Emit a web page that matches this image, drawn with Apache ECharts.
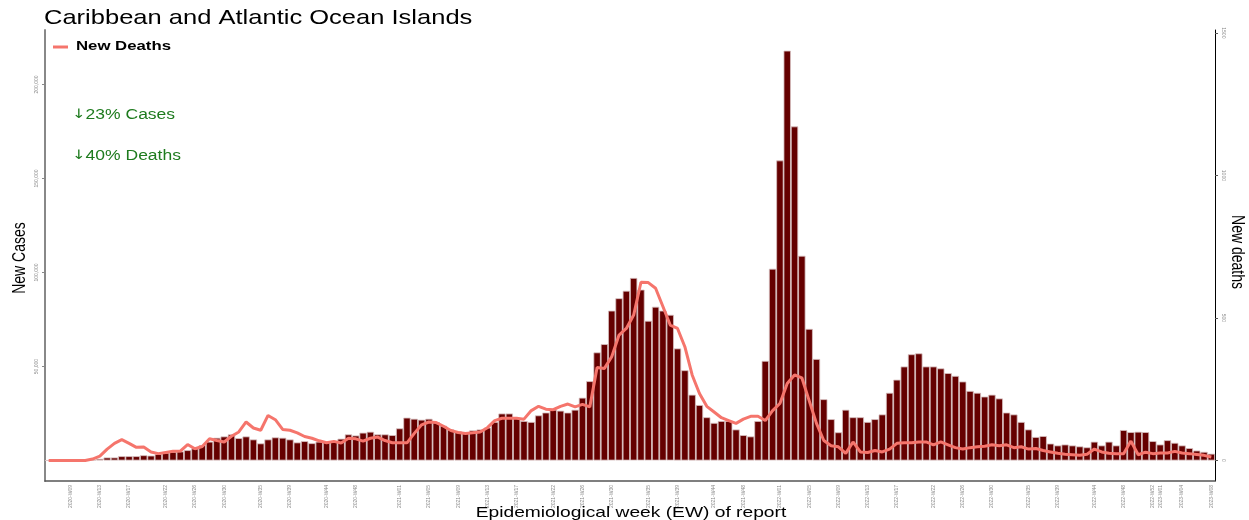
<!DOCTYPE html>
<html>
<head>
<meta charset="utf-8">
<script src="https://cdn.jsdelivr.net/npm/echarts@6/dist/echarts.min.js"></script>
<style>html,body{margin:0;padding:0;background:#fff}#c{width:1249px;height:520px}</style>
</head>
<body>
<div id="c"></div>
<script>
// Week categories 2020-W06 .. 2023-W08
const weeks = [];
(function(){
  const spans = [[2020,6,53],[2021,1,52],[2022,1,52],[2023,1,8]];
  spans.forEach(([y,a,b])=>{for(let w=a;w<=b;w++){weeks.push(y+'-W'+(w<10?'0'+w:w));}});
})();

const tickWeeks = ['2020-W09','2020-W13','2020-W17','2020-W22','2020-W26','2020-W30','2020-W35','2020-W39','2020-W44','2020-W48',
  '2021-W01','2021-W05','2021-W09','2021-W13','2021-W17','2021-W22','2021-W26','2021-W30','2021-W35','2021-W39','2021-W44','2021-W48',
  '2022-W01','2022-W05','2022-W09','2022-W13','2022-W17','2022-W22','2022-W26','2022-W30','2022-W35','2022-W39','2022-W44','2022-W48','2022-W52',
  '2023-W01','2023-W04','2023-W08'];

const caseTicks = [50000,100000,150000,200000];
const deathTicks = [0,500,1000,1500];

const newCases = [
  0,0,0,0,0,0,300,900,1600,1600,2300,2300,2300,2800,2600,3400,4100,4600,4800,5500,6400,8200,10000,12100,
  12800,13900,11900,12800,11200,9100,11200,12300,12100,11200,9600,10300,9200,10000,9800,10100,11600,13900,13300,14800,15300,13900,13900,13500,17100,22800,22200,21700,22200,20400,
  18500,16500,15500,15000,16000,16500,17500,20500,25000,25000,22500,21000,20500,24000,25500,27000,26500,25500,27000,
  33400,42200,57500,61900,79700,86300,90300,97100,90900,74300,81800,79700,77500,59600,48000,35000,29500,
  23000,20000,21000,21000,16500,13500,12800,21000,53000,102000,159600,218000,177700,108900,70000,54000,32600,
  22000,15000,27000,23000,23000,20500,22000,24500,36000,43000,50000,56500,57000,50000,50000,49000,46500,45000,42000,37000,36000,34000,35000,33000,25500,24500,20500,16500,12500,13000,9000,8000,8500,8000,7500,7000,10000,
  8000,10000,8000,16200,15100,15300,15100,10300,8500,10800,9400,8000,6600,5300,4600,3600
];

const newDeaths = [
  0,0,0,0,0,0,5,15,40,60,73,60,46,47,30,24,28,32,33,56,41,49,76,70,
  65,85,100,135,114,106,158,143,109,106,97,84,78,69,62,67,61,78,76,68,78,82,70,62,62,62,95,125,135,133,
  120,105,98,95,97,100,115,140,148,148,148,145,175,190,180,178,190,198,188,
  197,188,326,323,364,440,463,510,625,624,604,540,475,463,399,300,235,
  190,170,150,140,130,145,155,155,140,175,200,270,300,290,210,130,70,
  52,48,25,65,30,28,35,30,40,60,62,62,65,65,55,65,55,45,40,45,48,50,55,52,55,45,48,40,42,35,30,25,22,20,18,22,40,
  30,25,24,24,68,20,29,24,26,26,32,26,24,21,18,12
];

const tickSet = new Set(tickWeeks);
const chart = echarts.init(document.getElementById('c'), null, {renderer:'canvas'});
const tinyLabel = {fontSize:5, color:'#8a8a8a', fontFamily:'Liberation Sans'};
const FONT = '"Liberation Sans", Arial, sans-serif';
const arrowRich = {a:{fontFamily:'DejaVu Sans', fontSize:13, fill:'#1e7b1e'}};

chart.setOption({
  animation:false,
  backgroundColor:'#fff',
  graphic:[
    {type:'text', x:44, y:18, scaleX:1.215, z:10,
      style:{text:'Caribbean and Atlantic Ocean Islands', fill:'#000', font:'21px '+FONT, verticalAlign:'middle', align:'left'}},
    {type:'line', shape:{x1:53, y1:47, x2:68, y2:47}, style:{stroke:'#f5756c', lineWidth:3}, z:10},
    {type:'text', x:76, y:47, scaleX:1.34, z:10,
      style:{text:'New Deaths', fill:'#000', font:'bold 12.5px '+FONT, verticalAlign:'middle', align:'left'}},
    {type:'text', x:72, y:115, scaleX:1.25, z:10,
      style:{text:'{a|↓}23% Cases', fill:'#1e7b1e', font:'14px '+FONT, verticalAlign:'middle', align:'left', rich:arrowRich}},
    {type:'text', x:72, y:156, scaleX:1.25, z:10,
      style:{text:'{a|↓}40% Deaths', fill:'#1e7b1e', font:'14px '+FONT, verticalAlign:'middle', align:'left', rich:arrowRich}},
    {type:'text', x:20, y:258, rotation:Math.PI/2, scaleY:1.25, z:10,
      style:{text:'New Cases', fill:'#000', font:'14px '+FONT, verticalAlign:'middle', align:'center'}},
    {type:'text', x:1237, y:252, rotation:-Math.PI/2, scaleY:1.25, z:10,
      style:{text:'New deaths', fill:'#000', font:'14px '+FONT, verticalAlign:'middle', align:'center'}},
    {type:'text', x:631, y:513, scaleX:1.28, z:10,
      style:{text:'Epidemiological week (EW) of report', fill:'#000', font:'15px '+FONT, verticalAlign:'middle', align:'center'}}
  ],
  grid:{left:45, right:34, top:30, bottom:39, containLabel:false, outerBoundsMode:'none'},
  xAxis:{type:'category', data:weeks, boundaryGap:true,
    axisLine:{onZero:false, lineStyle:{color:'#555', width:1.5}},
    axisTick:{alignWithLabel:true, interval:(i,v)=>tickSet.has(v), length:3, lineStyle:{color:'#555'}},
    axisLabel:Object.assign({interval:(i,v)=>tickSet.has(v), rotate:90, margin:4}, tinyLabel)
  },
  yAxis:[
    {type:'value', min:-10900, max:229000, position:'left',
      axisLine:{show:true, onZero:false, lineStyle:{color:'#888', width:2}},
      axisTick:{show:true, customValues:caseTicks, length:3, lineStyle:{color:'#888'}},
      axisLabel:Object.assign({customValues:caseTicks, rotate:90, margin:6,
        formatter:v=>v.toLocaleString('en-US')}, tinyLabel),
      splitLine:{show:false}},
    {type:'value', min:-72, max:1510, position:'right',
      axisLine:{show:true, onZero:false, lineStyle:{color:'#000', width:1}},
      axisTick:{show:true, customValues:deathTicks, length:3, lineStyle:{color:'#555'}},
      axisLabel:Object.assign({customValues:deathTicks, rotate:-90, margin:6, formatter:v=>String(v)}, tinyLabel),
      splitLine:{show:false}}
  ],
  series:[
    {name:'New Cases', type:'bar', data:newCases, yAxisIndex:0, barCategoryGap:'0%',
      itemStyle:{color:'#650000', borderColor:'#d8c2c2', borderWidth:0.8}},
    {name:'New Deaths', type:'line', data:newDeaths, yAxisIndex:1, symbol:'none',
      lineStyle:{color:'#f5756c', width:3}, itemStyle:{color:'#f5756c'}, z:5}
  ]
});
</script>
</body>
</html>
